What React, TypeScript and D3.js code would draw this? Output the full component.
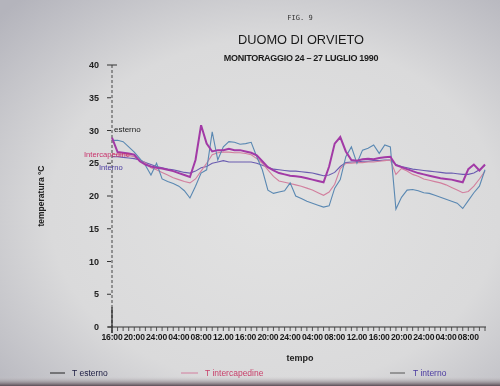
import React from "react";
import * as d3 from "d3";

// hours since 16:00 of 24 July 1990 (hourly samples)
const hours = d3.range(0, 68);

// thick magenta trace
const tSonda = [28.9, 26.7, 26.6, 26.5, 26.3, 25.3, 24.8, 24.5, 24.3, 24.2, 24.0, 23.8, 23.5, 23.2, 22.9, 25.5, 30.8, 28.0, 26.8, 27.0, 27.0, 27.2, 27.0, 27.0, 26.8, 26.6, 26.2, 25.3, 24.4, 23.9, 23.5, 23.3, 23.1, 23.0, 22.9, 22.7, 22.5, 22.3, 22.1, 24.5, 28.0, 29.0, 26.8, 25.5, 25.4, 25.6, 25.7, 25.6, 25.8, 25.9, 26.0, 24.7, 24.4, 24.1, 23.8, 23.5, 23.3, 23.1, 22.9, 22.7, 22.6, 22.5, 22.3, 22.1, 24.1, 24.8, 23.9, 24.8];
// T esterno (steel blue, widest swings)
const tEsterno = [28.5, 28.5, 28.3, 27.5, 26.7, 25.7, 24.7, 23.2, 25.0, 22.6, 22.2, 21.9, 21.5, 20.8, 19.7, 21.5, 23.5, 24.0, 29.8, 25.5, 27.5, 28.3, 28.2, 27.9, 28.0, 28.2, 26.0, 24.0, 20.9, 20.4, 20.6, 20.8, 22.0, 20.0, 19.6, 19.2, 18.9, 18.6, 18.3, 18.5, 21.2, 22.5, 26.0, 27.5, 25.0, 27.0, 27.3, 27.8, 26.5, 27.8, 27.5, 18.0, 19.8, 20.9, 21.0, 20.8, 20.5, 20.4, 20.1, 19.8, 19.5, 19.2, 18.9, 18.1, 19.3, 20.5, 21.5, 24.0];
// T intercapedine (pink)
const tIntercapedine = [26.5, 26.3, 26.3, 26.2, 26.0, 25.5, 25.0, 24.3, 24.0, 23.6, 23.2, 22.8, 22.5, 22.2, 22.0, 22.6, 23.8, 25.0, 26.3, 26.6, 26.7, 26.7, 26.6, 26.6, 26.5, 26.3, 25.7, 25.0, 24.0, 23.0, 22.3, 22.1, 21.9, 21.7, 21.5, 21.2, 20.9, 20.5, 20.1, 20.6, 21.8, 24.2, 25.0, 25.0, 25.1, 25.1, 25.2, 25.2, 25.3, 25.4, 25.5, 23.3, 24.2, 23.8, 23.3, 23.0, 22.6, 22.4, 22.2, 22.0, 21.7, 21.3, 20.9, 20.5, 20.7, 21.5, 22.6, 23.8];
// T interno (purple, flattest)
const tInterno = [26.0, 26.0, 25.9, 25.8, 25.7, 25.5, 25.1, 24.8, 24.5, 24.3, 24.1, 24.0, 23.8, 23.6, 23.5, 23.8, 24.3, 24.5, 25.0, 25.2, 25.4, 25.2, 25.2, 25.2, 25.2, 25.2, 25.0, 24.7, 24.4, 24.1, 24.0, 23.9, 23.8, 23.8, 23.7, 23.6, 23.5, 23.3, 23.1, 23.2, 23.6, 24.5, 25.1, 25.2, 25.2, 25.3, 25.3, 25.4, 25.4, 25.5, 25.5, 24.8, 24.5, 24.3, 24.1, 24.0, 23.9, 23.8, 23.7, 23.6, 23.5, 23.5, 23.4, 23.3, 23.3, 23.5, 24.0, 24.7];

const xTickLabels = ["16:00", "20:00", "24:00", "04:00", "08:00", "12.00", "16:00", "20:00", "24:00", "04:00", "08:00", "12.00", "16:00", "20:00", "24:00", "04:00", "08:00"];
const yTicks = [0, 5, 10, 15, 20, 25, 30, 35, 40];

const FONT = "'Liberation Sans', Arial, sans-serif";

export default function App() {
  const W = 500, H = 386;
  const x = d3.scaleLinear().domain([0, 67]).range([112, 485]);
  const y = d3.scaleLinear().domain([0, 40]).range([327, 65]);
  const line = (vals: number[]) =>
    d3.line<number>().x((_, i) => x(hours[i])).y((v) => y(v))(vals) || "";

  const minor = d3.range(0, 68);

  return (
    <svg width={W} height={H} style={{ position: "fixed", left: 0, top: 0 }} fontFamily={FONT}>
      <defs>
        <radialGradient id="bg" cx="0.55" cy="0.55" r="0.75">
          <stop offset="0" stopColor="#e2e2e2" />
          <stop offset="0.6" stopColor="#dadadb" />
          <stop offset="1" stopColor="#b4b4bc" />
        </radialGradient>
        <linearGradient id="bottom" x1="0" y1="0" x2="0" y2="1">
          <stop offset="0" stopColor="#d6d4d6" stopOpacity="0" />
          <stop offset="1" stopColor="#5a4c55" />
        </linearGradient>
      </defs>
      <rect width={W} height={H} fill="url(#bg)" />
      <rect x={0} y={376} width={W} height={10} fill="url(#bottom)" />

      {/* titles */}
      <text x={300} y={20} textAnchor="middle" fontSize={7} fontFamily="'DejaVu Sans Mono', monospace" fill="#333">FIG. 9</text>
      <text x={301} y={44} textAnchor="middle" fontSize={12.8} fill="#1a1a1a">DUOMO DI ORVIETO</text>
      <text x={301} y={61} textAnchor="middle" fontSize={9} fontWeight="bold" fill="#1a1a1a" letterSpacing={-0.3}>MONITORAGGIO 24 – 27 LUGLIO 1990</text>

      {/* y axis */}
      <line x1={112} x2={112} y1={y(40)} y2={y(0) + 6} stroke="#444" strokeWidth={1} strokeDasharray="3,2" />
      <line x1={112} x2={112} y1={y(3)} y2={y(0) + 6} stroke="#222" strokeWidth={1.2} />
      <line x1={107} x2={117} y1={y(40)} y2={y(40)} stroke="#333" strokeWidth={1} />
      {yTicks.map((t) => (
        <g key={t}>
          {t !== 40 && <line x1={107} x2={111} y1={y(t)} y2={y(t)} stroke="#333" strokeWidth={1} />}
          <text x={99} y={y(t) + 3} textAnchor="end" fontSize={9} fontWeight="bold" fill="#222">{t}</text>
        </g>
      ))}
      <text transform={`translate(44,${y(20)}) rotate(-90)`} textAnchor="middle" fontSize={8.5} fontWeight="bold" fill="#222">temperatura °C</text>

      {/* x axis */}
      <line x1={108} x2={486} y1={y(0)} y2={y(0)} stroke="#333" strokeWidth={1} />
      {minor.map((h) => (
        <line key={h} x1={x(h)} x2={x(h)} y1={y(0)} y2={y(0) + 4} stroke="#444" strokeWidth={0.9} />
      ))}
      {xTickLabels.map((l, i) => (
        <text key={i} x={x(i * 4)} y={y(0) + 13} textAnchor="middle" fontSize={8.6} fontWeight="bold" fill="#1a1a1a" letterSpacing={-0.2}>{l}</text>
      ))}
      <text x={300} y={361} textAnchor="middle" fontSize={9} fontWeight="bold" fill="#222">tempo</text>

      {/* series */}
      <path d={line(tInterno)} fill="none" stroke="#6a5cb0" strokeWidth={1.1} />
      <path d={line(tIntercapedine)} fill="none" stroke="#d27f9e" strokeWidth={1.1} />
      <path d={line(tEsterno)} fill="none" stroke="#5a88b2" strokeWidth={1.1} />
      <path d={line(tSonda)} fill="none" stroke="#a23aa6" strokeWidth={2} />

      {/* in-plot labels */}
      <text x={114} y={132} fontSize={8} fill="#1a1a1a">esterno</text>
      <text x={84} y={157} fontSize={7.6} fill="#c8306a">Intercapedine</text>
      <text x={99} y={170} fontSize={7.6} fill="#4a3aa0">Interno</text>

      {/* legend */}
      <line x1={50} x2={65} y1={373} y2={373} stroke="#222" strokeWidth={1} />
      <text x={72} y={376} fontSize={8.5} fill="#1a1a40">T esterno</text>
      <line x1={181} x2={198} y1={373} y2={373} stroke="#d27f9e" strokeWidth={1} />
      <text x={205} y={376} fontSize={8.5} fill="#c8406a">T intercapedine</text>
      <line x1={390} x2={405} y1={373} y2={373} stroke="#555" strokeWidth={1} />
      <text x={413} y={376} fontSize={8.5} fill="#4a3aa0">T interno</text>
    </svg>
  );
}
